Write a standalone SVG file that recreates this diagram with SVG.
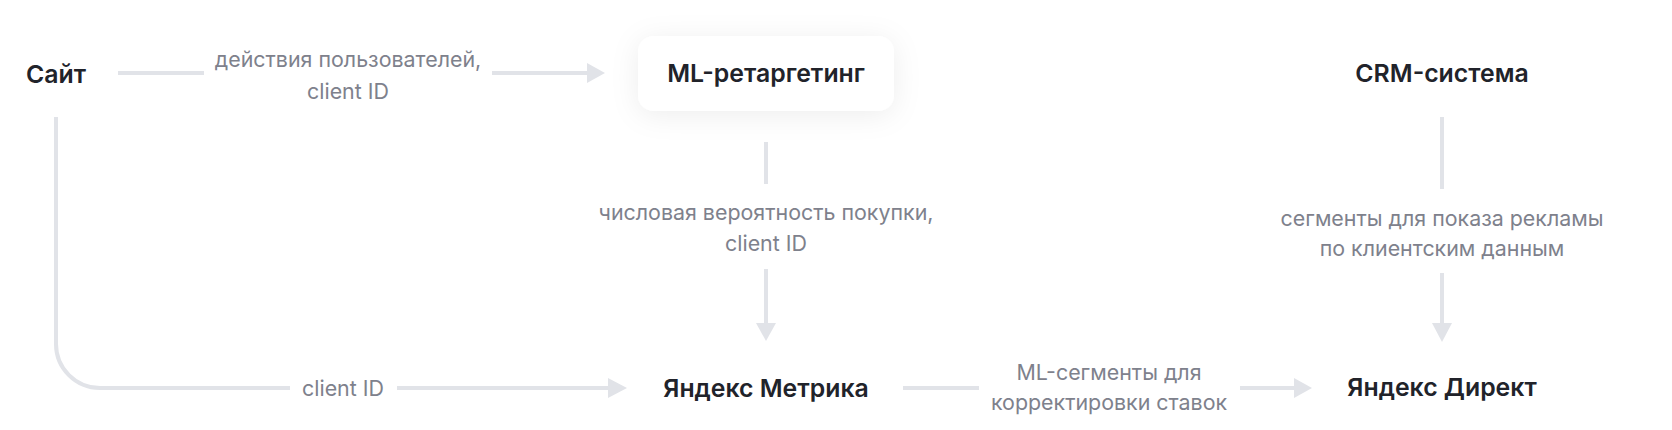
<svg xmlns="http://www.w3.org/2000/svg" width="1672" height="430" viewBox="0 0 1672 430">
<defs>
<style>
.node{font-family:Inter,"Noto Sans",sans-serif;font-weight:600;font-size:24.8px;fill:#21232a;text-anchor:middle}
.lbl{font-family:Inter,"Noto Sans",sans-serif;font-weight:400;font-size:21.4px;fill:#7e818c;text-anchor:middle}
.ln{stroke:#e1e3e8;stroke-width:4;fill:none}
.ah{fill:#e1e3e8}
</style>
<filter id="sh" x="-30%" y="-60%" width="160%" height="220%">
<feDropShadow dx="0" dy="4" stdDeviation="14" flood-color="#000" flood-opacity="0.07"/>
</filter>
</defs>
<rect width="1672" height="430" fill="#ffffff"/>
<g id="connectors">
<g id="c-site-ml">
<line class="ln" x1="118" y1="73" x2="204" y2="73"/>
<line class="ln" x1="492" y1="73" x2="588" y2="73"/>
<polygon class="ah" points="587,63 605,73 587,83"/>
<text class="lbl" x="348" y="67">действия пользователей,</text>
<text class="lbl" x="348" y="99">client ID</text>
</g>
<g id="c-ml-metrika">
<line class="ln" x1="766" y1="142" x2="766" y2="184"/>
<line class="ln" x1="766" y1="269" x2="766" y2="324"/>
<polygon class="ah" points="756,323 776,323 766,341"/>
<text class="lbl" x="766" y="220">числовая вероятность покупки,</text>
<text class="lbl" x="766" y="251">client ID</text>
</g>
<g id="c-crm-direct">
<line class="ln" x1="1442" y1="117" x2="1442" y2="189"/>
<line class="ln" x1="1442" y1="273" x2="1442" y2="324"/>
<polygon class="ah" points="1432,323 1452,323 1442,342"/>
<text class="lbl" x="1442" y="226">сегменты для показа рекламы</text>
<text class="lbl" x="1442" y="256">по клиентским данным</text>
</g>
<g id="c-site-metrika">
<path class="ln" d="M56 117 V344 A44 44 0 0 0 100 388 H290"/>
<line class="ln" x1="397" y1="388" x2="609" y2="388"/>
<polygon class="ah" points="608,378 627,388 608,398"/>
<text class="lbl" x="343" y="396">client ID</text>
</g>
<g id="c-metrika-direct">
<line class="ln" x1="903" y1="388" x2="979" y2="388"/>
<line class="ln" x1="1240" y1="388" x2="1295" y2="388"/>
<polygon class="ah" points="1294,378 1312,388 1294,398"/>
<text class="lbl" x="1109" y="380">ML-сегменты для</text>
<text class="lbl" x="1109" y="410">корректировки ставок</text>
</g>
</g>
<g id="site"><text class="node" x="56" y="83">Сайт</text></g>
<g id="ml"><rect x="638" y="36" width="256" height="75" rx="16" fill="#ffffff" filter="url(#sh)"/><text class="node" x="766" y="82">ML-ретаргетинг</text></g>
<g id="crm"><text class="node" x="1442" y="82">CRM-система</text></g>
<g id="metrika"><text class="node" x="766" y="397">Яндекс Метрика</text></g>
<g id="direct"><text class="node" x="1442" y="396">Яндекс Директ</text></g>
</svg>
